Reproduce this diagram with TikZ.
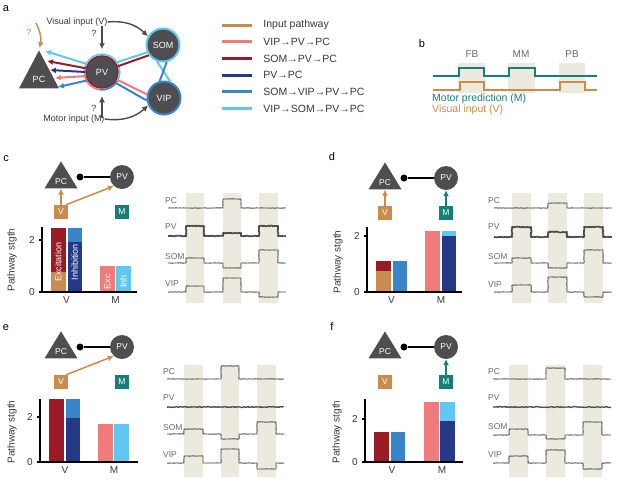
\documentclass[tikz,border=0pt]{standalone}
\usepackage{fontspec}
\setmainfont{Liberation Sans}
\usetikzlibrary{arrows.meta,shapes.geometric,positioning,decorations.pathmorphing}

\definecolor{inputc}{RGB}{201,139,78}
\definecolor{pinkc}{RGB}{241,122,122}
\definecolor{darkredc}{RGB}{152,27,38}
\definecolor{navyc}{RGB}{37,57,134}
\definecolor{bluec}{RGB}{58,132,200}
\definecolor{lightbluec}{RGB}{96,200,240}
\definecolor{tealc}{RGB}{22,128,120}
\definecolor{cellgray}{RGB}{78,78,80}
\definecolor{shadec}{RGB}{236,234,223}
\definecolor{tracec}{RGB}{75,75,75}
\definecolor{textc}{RGB}{55,55,55}
\definecolor{lblc}{RGB}{105,105,105}

% shaded windows (FB, MM, PB) and one step trace per row
\newcommand{\setshades}[8]{\def\shS{#1}\def\shA{#2}\def\shB{#3}\def\shC{#4}\def\shD{#5}\def\shE{#6}\def\shF{#7}\def\shT{#8}}
\newcommand{\shades}[2]{\fill[shadec] (\shA,#1) rectangle (\shB,#2) (\shC,#1) rectangle (\shD,#2) (\shE,#1) rectangle (\shF,#2);}
\newcommand{\trc}[5][]{\draw[trace,#1] (\shS,#2) -| (\shA,#3) -| (\shB,#2) -| (\shC,#4) -| (\shD,#2) -| (\shE,#5) -| (\shF,#2) -- (\shT,#2);}
\newcommand{\bseg}[4]{\fill[#1] (#2,#3) rectangle (#2+14.5,#4);}
% PC -o PV motif with the two input boxes
\newcommand{\motif}[1]{%
  \node[pyr,minimum width=33pt,minimum height=27pt] (PC#1) at (61,161) {PC};
  \node[inhdot] (dot#1) at (80,177) {};
  \node[cell,minimum size=24pt,font=\fontsize{8.5}{10}\selectfont] (PV#1) at (122,177) {PV};
  \draw[inhline] (dot#1) -- (PV#1);
  \node[vsq] (V#1) at (61,212) {V};
  \node[msq] (M#1) at (122,212) {M};}

\begin{document}
\begin{tikzpicture}[x=1pt,y=-1pt,
    cell/.style={circle,fill=cellgray,text=white,inner sep=0pt,font=\fontsize{9}{10}\selectfont},
    pyr/.style={isosceles triangle,isosceles triangle apex angle=60,isosceles triangle stretches,
      shape border rotate=90,anchor=apex,fill=cellgray,text=white,inner sep=0pt,font=\fontsize{8.5}{10}\selectfont},
    inhdot/.style={circle,fill=black,minimum size=7pt,inner sep=0pt},
    inhline/.style={black,line width=1.3pt},
    vsq/.style={rectangle,fill=inputc,text=white,minimum size=14pt,inner sep=0pt,font=\fontsize{8.5}{10}\selectfont},
    msq/.style={vsq,fill=tealc},
    link/.style={line width=2pt},
    inharrow/.style={line width=2pt,-{Latex[length=6pt,width=6pt]}},
    garrow/.style={draw=tracec,line width=1.4pt,-{Latex[length=6pt,width=6pt]}},
    oarrow/.style={draw=inputc,line width=1.5pt,-{Latex[length=6pt,width=6pt]}},
    tarrow/.style={oarrow,draw=tealc},
    letter/.style={inner sep=0pt,font=\fontsize{11}{12}\selectfont},
    atext/.style={inner sep=0pt,text=textc,font=\fontsize{9}{10}\selectfont},
    legtxt/.style={anchor=west,inner sep=0pt,text=textc,font=\fontsize{10.5}{12}\selectfont},
    swatch/.style={rectangle,minimum width=30pt,minimum height=3pt,inner sep=0pt},
    trace/.style={tracec,line width=0.9pt,line join=round,decorate,
      decoration={random steps,segment length=1.5pt,amplitude=0.15pt}},
    pvtrace/.style={line width=1.7pt,decoration={random steps,segment length=1pt,amplitude=0.45pt}},
    trlbl/.style={anchor=west,inner sep=0pt,text=lblc,font=\fontsize{8.5}{10}\selectfont},
    baraxis/.style={black,line width=1.3pt},
    ticklbl/.style={inner sep=0pt,text=textc,font=\fontsize{10}{12}\selectfont},
    ylbl/.style={rotate=90,inner sep=0pt,text=textc,font=\fontsize{10}{12}\selectfont},
    bartxt/.style={rotate=90,inner sep=0pt,text=white,font=\fontsize{9}{10}\selectfont}]

  \useasboundingbox (0,0) rectangle (617,482);

  % ---------- a: circuit ----------
  \node[letter] (la) at (6,9) {a};
  \node[pyr,minimum width=40pt,minimum height=38pt,font=\fontsize{9}{10}\selectfont] (PC) at (39,50) {PC};
  \node[cell,minimum size=32pt,draw=darkredc,line width=1.5pt] (PV) at (102,72) {PV};
  \node[cell,minimum size=33pt,draw=lightbluec,line width=2pt] (SOM) at (163,45) {SOM};
  \node[cell,minimum size=33pt,draw=bluec,line width=2pt] (VIP) at (164,98) {VIP};
  \draw[lightbluec,line width=1.5pt] (PV.center) circle[radius=17.8pt];
  \draw[pinkc,line width=1.5pt] (PV.center) ++(195:17.8pt) arc[start angle=195,end angle=262,radius=17.8pt];
  \draw[bluec,line width=1.5pt] (PV.center) ++(262:17.8pt) arc[start angle=262,end angle=330,radius=17.8pt];

  \coordinate (tA) at (45,51);
  \coordinate (tB) at (47,61);
  \coordinate (tC) at (50,70);
  \coordinate (tD) at (55,78);
  \coordinate (tE) at (58,87);
  \draw[inharrow,lightbluec] (PV.152) -- (tA);
  \draw[inharrow,darkredc] (PV.167) -- (tB);
  \draw[inharrow,navyc] (PV.180) -- (tC);
  \draw[inharrow,pinkc] (PV.194) -- (tD);
  \draw[inharrow,bluec] (PV.210) -- (tE);

  \draw[link,lightbluec] (PV.34) -- (SOM.205);
  \draw[link,darkredc] (PV.20) -- (SOM.216);
  \draw[link,pinkc] (PV.-27) -- (VIP.168);
  \draw[link,bluec] (PV.-39) -- (VIP.188);
  \draw[link,lightbluec] (SOM.250) -- (VIP.69);
  \draw[link,bluec] (SOM.282) -- (VIP.104);

  \node[atext] (visIn) at (77,22) {Visual input (V)};
  \node[atext] (motIn) at (74,119) {Motor input (M)};
  \node[atext] (qV) at (94,33) {?};
  \node[atext] (qM) at (94,108) {?};
  \node[atext,text=inputc] (qPC) at (29,32) {?};
  \coordinate (vTop) at (102,26);
  \coordinate (mBot) at (102,118);
  \coordinate (pcTop) at (36,23);
  \draw[garrow] (visIn.east) to[bend left=25] (SOM.150);
  \draw[garrow] (motIn.east) to[bend right=25] (VIP.205);
  \draw[garrow,shorten >=6pt] (vTop) -- (PV.north);
  \draw[garrow,shorten >=7.5pt] (mBot) -- (PV.south);
  \draw[oarrow,shorten >=2pt] (pcTop) to[bend left=20] (PC.apex);

  % legend
  \node[swatch,fill=inputc] (swIn) at (237,25) {};
  \node[swatch,fill=pinkc] (swVP) at (237,41.7) {};
  \node[swatch,fill=darkredc] (swSP) at (237,58.4) {};
  \node[swatch,fill=navyc] (swPP) at (237,75.1) {};
  \node[swatch,fill=bluec] (swSV) at (237,91.8) {};
  \node[swatch,fill=lightbluec] (swVS) at (237,108.5) {};
  \node[legtxt,right=11pt of swIn] (lgIn) {Input pathway};
  \node[legtxt,right=11pt of swVP] (lgVP) {VIP→PV→PC};
  \node[legtxt,right=11pt of swSP] (lgSP) {SOM→PV→PC};
  \node[legtxt,right=11pt of swPP] (lgPP) {PV→PC};
  \node[legtxt,right=11pt of swSV] (lgSV) {SOM→VIP→PV→PC};
  \node[legtxt,right=11pt of swVS] (lgVS) {VIP→SOM→PV→PC};

  % ---------- b: protocol ----------
  \node[letter] (lb) at (422,44) {b};
  \fill[shadec] (458,63) rectangle (485,93) (508,63) rectangle (535,93) (559,63) rectangle (585,93);
  \node[atext,text=lblc,font=\fontsize{10}{12}\selectfont] (fb) at (472,54) {FB};
  \node[atext,text=lblc,font=\fontsize{10}{12}\selectfont] (mm) at (521,54) {MM};
  \node[atext,text=lblc,font=\fontsize{10}{12}\selectfont] (pb) at (572,54) {PB};
  \draw[tealc,line width=1.4pt] (433,76) -| (459,68) -| (484,76) -| (509,68) -| (535,76) -- (597,76);
  \draw[inputc,line width=1.4pt] (433,90) -| (460,82) -| (484,90) -| (560,82) -| (585,90) -- (597,90);
  \node[legtxt,text=tealc] (mpred) at (432,98.5) {Motor prediction (M)};
  \node[legtxt,text=inputc] (vinp) at (432,110) {Visual input (V)};

  % ---------- c ----------
  \node[letter] (lc) at (6,159) {c};
  \motif{c}
  \draw[oarrow] (Vc.north) -- (PCc.south);
  \draw[oarrow] (Vc.55) -- (PVc.228);
  \begin{scope}[shift={(42,292)},y=26pt]
    \bseg{inputc}{9}{0}{0.77} \bseg{darkredc}{9}{0.77}{2.47}
    \bseg{navyc}{25.5}{0}{1.92} \bseg{bluec}{25.5}{1.92}{2.47}
    \bseg{pinkc}{58}{0}{1} \bseg{lightbluec}{74}{0}{1}
    \node[bartxt] (excC) at (16.25,1.15) {Excitation};
    \node[bartxt] (inhC) at (32.75,1.15) {Inhibition};
    \node[bartxt] (excC2) at (65.25,0.4) {Exc};
    \node[bartxt] (inhC2) at (81.25,0.4) {Inh};
    \draw[baraxis] (0,2.5) -- (0,0) (-3,0) -- (95,0) (-3,2) -- (0,2);
    \node[ticklbl,anchor=east] (c2) at (-7,2) {2};
    \node[ticklbl,anchor=east] (c0) at (-7,0) {0};
    \node[ticklbl,below=4pt] (cV) at (24.5,0) {V};
    \node[ticklbl,below=4pt] (cM) at (73.5,0) {M};
  \end{scope}
  \node[ylbl] (ylc) at (12,260) {Pathway stgth};
  \setshades{168}{186}{204}{223}{241}{259}{278}{286}
  \shades{193}{303}
  \node[trlbl] (cPC) at (165,201) {PC};
  \node[trlbl] (cPV) at (165,227) {PV};
  \node[trlbl] (cSOM) at (165,257) {SOM};
  \node[trlbl] (cVIP) at (165,284) {VIP};
  \trc{208}{208}{199}{208}
  \trc[pvtrace]{236}{226}{233}{226}
  \trc{263}{258}{268}{250}
  \trc{292}{286}{278}{297}

  % ---------- d ----------
  \node[letter] (ld) at (332,157) {d};
  \begin{scope}[shift={(324,1)}]
    \motif{d}
  \end{scope}
  \draw[oarrow] (Vd.north) -- (PCd.south);
  \draw[tarrow] (Md.north) -- (PVd.south);
  \begin{scope}[shift={(367,292)},y=28pt]
    \bseg{inputc}{9}{0}{0.75} \bseg{darkredc}{9}{0.75}{1.1}
    \bseg{bluec}{25.5}{0}{1.1}
    \bseg{pinkc}{58}{0}{2.18}
    \bseg{navyc}{74.5}{0}{2.0} \bseg{lightbluec}{74.5}{2.0}{2.18}
    \draw[baraxis] (0,2.32) -- (0,0) (-3,0) -- (95,0) (-3,2) -- (0,2);
    \node[ticklbl,anchor=east] (d2) at (-7,2) {2};
    \node[ticklbl,anchor=east] (d0) at (-7,0) {0};
    \node[ticklbl,below=4pt] (dV) at (24.5,0) {V};
    \node[ticklbl,below=4pt] (dM) at (74,0) {M};
  \end{scope}
  \node[ylbl] (yld) at (338,262) {Pathway stgth};
  \setshades{494}{512}{531}{548}{567}{584}{603}{612}
  \shades{193}{303}
  \node[trlbl] (dPC) at (488,201) {PC};
  \node[trlbl] (dPV) at (488,227) {PV};
  \node[trlbl] (dSOM) at (488,257) {SOM};
  \node[trlbl] (dVIP) at (488,285) {VIP};
  \trc{208}{208}{203}{208}
  \trc[pvtrace]{237}{227}{232}{227}
  \trc{263}{258}{268}{250}
  \trc{292}{285}{277}{297}

  % ---------- e ----------
  \node[letter] (le) at (6,328) {e};
  \begin{scope}[shift={(0,170)}]
    \motif{e}
  \end{scope}
  \draw[oarrow] (Ve.55) -- (PVe.228);
  \begin{scope}[shift={(40,462)},y=22.5pt]
    \bseg{darkredc}{9}{0}{2.8}
    \bseg{navyc}{25.5}{0}{1.96} \bseg{bluec}{25.5}{1.96}{2.8}
    \bseg{pinkc}{58}{0}{1.69}
    \bseg{lightbluec}{74}{0}{1.69}
    \draw[baraxis] (0,2.8) -- (0,0) (-3,0) -- (98,0) (-3,2) -- (0,2);
    \node[ticklbl,anchor=east] (e2) at (-7,2) {2};
    \node[ticklbl,anchor=east] (e0) at (-7,0) {0};
    \node[ticklbl,below=4pt] (eV) at (25,0) {V};
    \node[ticklbl,below=4pt] (eM) at (74,0) {M};
  \end{scope}
  \node[ylbl] (yle) at (12,432) {Pathway stgth};
  \setshades{167}{184}{203}{221}{239}{257}{276}{284}
  \shades{365}{477}
  \node[trlbl] (ePC) at (163,372) {PC};
  \node[trlbl] (ePV) at (163,398) {PV};
  \node[trlbl] (eSOM) at (163,428) {SOM};
  \node[trlbl] (eVIP) at (163,455) {VIP};
  \trc{379}{379}{366}{379}
  \trc[pvtrace,line width=1.3pt]{407}{407}{407}{407}
  \trc{434}{429}{439}{422}
  \trc{463}{456}{449}{469}

  % ---------- f ----------
  \node[letter] (lf) at (332,327) {f};
  \begin{scope}[shift={(324,170)}]
    \motif{f}
  \end{scope}
  \draw[tarrow] (Mf.north) -- (PVf.south);
  \begin{scope}[shift={(365,462)},y=21.5pt]
    \bseg{darkredc}{9}{0}{1.4}
    \bseg{bluec}{25.5}{0}{1.4}
    \bseg{pinkc}{59}{0}{2.8}
    \bseg{navyc}{75}{0}{1.9} \bseg{lightbluec}{75}{1.9}{2.8}
    \draw[baraxis] (0,2.93) -- (0,0) (-3,0) -- (98,0) (-3,2) -- (0,2);
    \node[ticklbl,anchor=east] (f2) at (-7,2) {2};
    \node[ticklbl,anchor=east] (f0) at (-7,0) {0};
    \node[ticklbl,below=4pt] (fV) at (27,0) {V};
    \node[ticklbl,below=4pt] (fM) at (77,0) {M};
  \end{scope}
  \node[ylbl] (ylf) at (337,432) {Pathway stgth};
  \setshades{493}{509}{528}{546}{565}{583}{602}{611}
  \shades{365}{477}
  \node[trlbl] (fPC) at (488,372) {PC};
  \node[trlbl] (fPV) at (488,398) {PV};
  \node[trlbl] (fSOM) at (488,427) {SOM};
  \node[trlbl] (fVIP) at (488,455) {VIP};
  \trc{379}{379}{368}{379}
  \trc[pvtrace,line width=1.3pt]{407}{407}{407}{407}
  \trc{435}{429}{439}{422}
  \trc{463}{456}{450}{469}
\end{tikzpicture}
\end{document}
